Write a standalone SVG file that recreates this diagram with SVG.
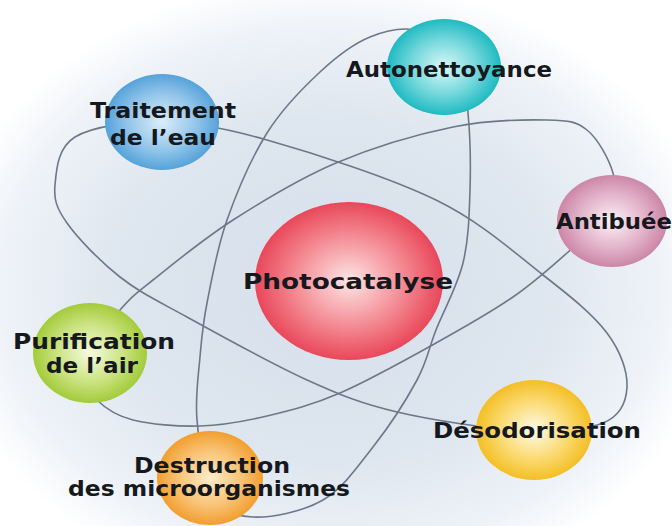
<svg xmlns="http://www.w3.org/2000/svg" width="672" height="526" viewBox="0 0 672 526">
  <defs>
    <radialGradient id="bg" cx="330" cy="290" r="390" gradientUnits="userSpaceOnUse" gradientTransform="translate(330 290) scale(1 0.8) translate(-330 -290)">
      <stop offset="0" stop-color="#d6e0eb"/>
      <stop offset="0.55" stop-color="#dee6ef"/>
      <stop offset="0.85" stop-color="#eff3f8"/>
      <stop offset="1" stop-color="#ffffff"/>
    </radialGradient>
    <radialGradient id="gRed"><stop offset="0" stop-color="#fde6e6"/><stop offset="0.55" stop-color="#f48f97"/><stop offset="1" stop-color="#e9475a"/></radialGradient>
    <radialGradient id="gCyan"><stop offset="0" stop-color="#dcf8f8"/><stop offset="0.6" stop-color="#6fd6da"/><stop offset="1" stop-color="#1fbac2"/></radialGradient>
    <radialGradient id="gBlue"><stop offset="0" stop-color="#dcedf9"/><stop offset="0.6" stop-color="#92c5ea"/><stop offset="1" stop-color="#55a2da"/></radialGradient>
    <radialGradient id="gPink"><stop offset="0" stop-color="#fcf0f6"/><stop offset="0.6" stop-color="#e2b3c9"/><stop offset="1" stop-color="#cc86a8"/></radialGradient>
    <radialGradient id="gGreen"><stop offset="0" stop-color="#f6fbe0"/><stop offset="0.6" stop-color="#c9e27e"/><stop offset="1" stop-color="#a3cb3a"/></radialGradient>
    <radialGradient id="gOrange"><stop offset="0" stop-color="#fdebc9"/><stop offset="0.6" stop-color="#f8c274"/><stop offset="1" stop-color="#f29e2e"/></radialGradient>
    <radialGradient id="gYellow"><stop offset="0" stop-color="#fffbe8"/><stop offset="0.6" stop-color="#fad96e"/><stop offset="1" stop-color="#f4bf26"/></radialGradient>
    <style>
      .orbit { fill: none; stroke: #6c7888; stroke-width: 1.6; }
      .lbl { font-family: "DejaVu Sans", "Liberation Sans", sans-serif; font-weight: bold; font-size: 21px; fill: #15181c; text-anchor: middle; }
    </style>
  </defs>

  <!-- soft backdrop -->
  <rect x="0" y="0" width="672" height="526" fill="url(#bg)"/>

  <!-- orbits -->
  <g id="connectors">
    <path id="orbit-eau-odeur" class="orbit" d="M55,185 C56.3,170.7 57.5,147.5 75,137 C92.5,126.5 128,121.5 160,122 C192,122.5 221,127 267,140 C313,153 390,177.5 436,200 C482,222.5 514.5,252.8 543,275 C571.5,297.2 593,314.3 607,333 C621,351.7 627.7,372 627,387 C626.3,402 620.8,415.8 603,423 C585.2,430.2 554.3,431.8 520,430 C485.7,428.2 432.5,420.3 397,412 C361.5,403.7 342,395.8 307,380 C272,364.2 218.2,334.2 187,317 C155.8,299.8 140,292.7 120,277 C100,261.3 77.8,238.3 67,223 C56.2,207.7 53.7,199.3 55,185 Z"/>
    <path id="orbit-auto-micro" class="orbit" d="M420,31 C434.7,35.2 450,48.3 458,62 C466,75.7 466,91.7 468,113 C470,134.3 470.8,165 470,190 C469.2,215 468.7,239.7 463,263 C457.3,286.3 443.7,310.5 436,330 C428.3,349.5 427.5,360.5 417,380 C406.5,399.5 388.7,427 373,447 C357.3,467 343,488.3 323,500 C303,511.7 271.5,517.8 253,517 C234.5,516.2 221.3,511.2 212,495 C202.7,478.8 199,443 197,420 C195,397 198.3,376.5 200,357 C201.7,337.5 202.5,325.8 207,303 C211.5,280.2 217,248.3 227,220 C237,191.7 251.5,157.7 267,133 C282.5,108.3 302.8,88 320,72 C337.2,56 353.3,43.8 370,37 C386.7,30.2 405.3,26.8 420,31 Z"/>
    <path id="orbit-air-buee" class="orbit" d="M97,400 C106.2,409.2 115.8,415.7 133,420 C150.2,424.3 177.7,426.7 200,426 C222.3,425.3 243.7,421.5 267,416 C290.3,410.5 311.8,405.2 340,393 C368.2,380.8 407.2,359 436,343 C464.8,327 491.2,312 513,297 C534.8,282 550.7,267.2 567,253 C583.3,238.8 603.3,225.3 611,212 C618.7,198.7 617,186.7 613,173 C609,159.3 598,138.8 587,130 C576,121.2 569.3,120.5 547,120 C524.7,119.5 488.2,119.8 453,127 C417.8,134.2 372.7,147.5 336,163 C299.3,178.5 263.5,200.5 233,220 C202.5,239.5 171.8,265 153,280 C134.2,295 132.5,295.8 120,310 C107.5,324.2 81.8,350 78,365 C74.2,380 87.8,390.8 97,400 Z"/>
  </g>

  <g id="photocatalyse">
    <ellipse cx="349" cy="281" rx="94" ry="79" fill="url(#gRed)"/>
    <text class="lbl" x="348" y="289" font-size="23" textLength="210" lengthAdjust="spacingAndGlyphs">Photocatalyse</text>
  </g>

  <g id="autonettoyance">
    <ellipse cx="444" cy="67" rx="57" ry="48" fill="url(#gCyan)"/>
    <text class="lbl" x="449" y="77" textLength="206" lengthAdjust="spacingAndGlyphs">Autonettoyance</text>
  </g>

  <g id="traitement">
    <ellipse cx="162" cy="122" rx="57" ry="48" fill="url(#gBlue)"/>
    <text class="lbl" x="163" y="118" textLength="146" lengthAdjust="spacingAndGlyphs">Traitement</text>
    <text class="lbl" x="163" y="145" textLength="106" lengthAdjust="spacingAndGlyphs">de l’eau</text>
  </g>

  <g id="antibuee">
    <ellipse cx="612" cy="221" rx="55" ry="46" fill="url(#gPink)"/>
    <text class="lbl" x="614" y="229" textLength="116" lengthAdjust="spacingAndGlyphs">Antibuée</text>
  </g>

  <g id="purification">
    <ellipse cx="90" cy="353" rx="57" ry="50" fill="url(#gGreen)"/>
    <text class="lbl" x="94" y="349" textLength="162" lengthAdjust="spacingAndGlyphs">Purification</text>
    <text class="lbl" x="92" y="373" textLength="92" lengthAdjust="spacingAndGlyphs">de l’air</text>
  </g>

  <g id="destruction">
    <ellipse cx="210" cy="478" rx="53" ry="47" fill="url(#gOrange)"/>
    <text class="lbl" x="212" y="473" textLength="156" lengthAdjust="spacingAndGlyphs">Destruction</text>
    <text class="lbl" x="209" y="496" textLength="282" lengthAdjust="spacingAndGlyphs">des microorganismes</text>
  </g>

  <g id="desodorisation">
    <ellipse cx="534" cy="430" rx="58" ry="50" fill="url(#gYellow)"/>
    <text class="lbl" x="537" y="438" textLength="208" lengthAdjust="spacingAndGlyphs">Désodorisation</text>
  </g>
</svg>
